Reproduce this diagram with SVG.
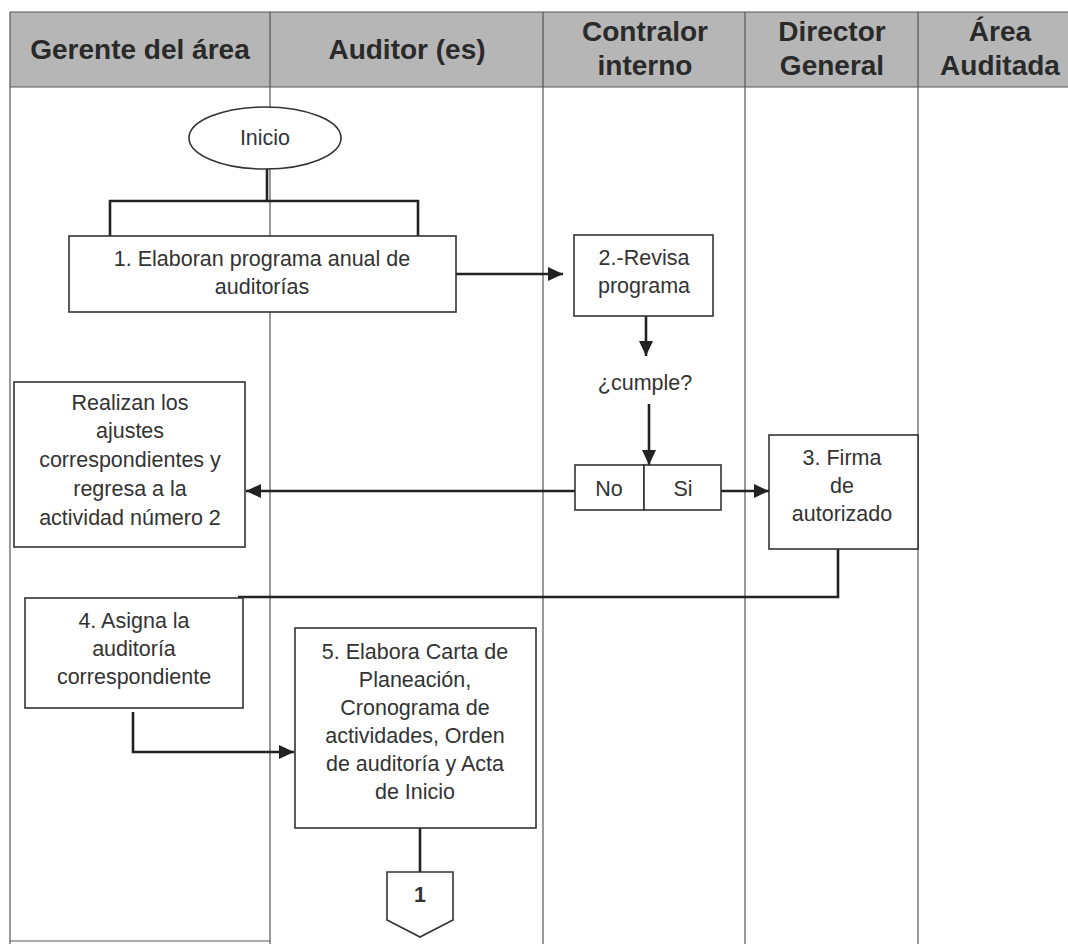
<svg xmlns="http://www.w3.org/2000/svg" width="1068" height="944" viewBox="0 0 1068 944">
<defs>
<style>
.lane{stroke:#555;stroke-width:1.2;fill:none}
.hdr{font-family:"Liberation Sans",Arial,sans-serif;font-weight:bold;font-size:28px;fill:#2a2a2a;text-anchor:middle}
.box{fill:#fff;stroke:#333;stroke-width:1.6}
.t{font-family:"Liberation Sans",Arial,sans-serif;font-size:21.5px;fill:#333;text-anchor:middle}
.c{stroke:#222;stroke-width:2.6;fill:none}
</style>
<marker id="ah" markerUnits="userSpaceOnUse" markerWidth="16" markerHeight="14" refX="15" refY="7" orient="auto">
<path d="M0,0 L15,7 L0,14 Z" fill="#222"/>
</marker>
</defs>
<rect width="1068" height="944" fill="#fff"/>
<g id="table">
<rect x="10" y="12" width="1070" height="75" fill="#b6b6b6"/>
<line class="lane" x1="10" y1="12" x2="1068" y2="12"/>
<line class="lane" x1="10" y1="87" x2="1068" y2="87"/>
<line class="lane" x1="10" y1="12" x2="10" y2="944"/>
<line class="lane" x1="270" y1="12" x2="270" y2="944"/>
<line class="lane" x1="543" y1="12" x2="543" y2="944"/>
<line class="lane" x1="745" y1="12" x2="745" y2="944"/>
<line class="lane" x1="918" y1="12" x2="918" y2="944"/>
<line class="lane" x1="10" y1="941" x2="270" y2="941"/>
<text class="hdr" x="140" y="59">Gerente del área</text>
<text class="hdr" x="407" y="59">Auditor (es)</text>
<text class="hdr" x="645" y="41">Contralor</text>
<text class="hdr" x="645" y="75">interno</text>
<text class="hdr" x="832" y="41">Director</text>
<text class="hdr" x="832" y="75">General</text>
<text class="hdr" x="1000" y="41">Área</text>
<text class="hdr" x="1000" y="75">Auditada</text>
</g>
<g id="connectors">
<polyline class="c" points="267,169 267,201"/>
<polyline class="c" points="110,236 110,201 418,201 418,236"/>
<line class="c" x1="456" y1="274" x2="563" y2="274" marker-end="url(#ah)"/>
<line class="c" x1="646" y1="316" x2="646" y2="356" marker-end="url(#ah)"/>
<line class="c" x1="649" y1="404" x2="649" y2="465" marker-end="url(#ah)"/>
<line class="c" x1="575" y1="491" x2="246" y2="491" marker-end="url(#ah)"/>
<line class="c" x1="721" y1="491" x2="769" y2="491" marker-end="url(#ah)"/>
<polyline class="c" points="838,549 838,597 238,597"/>
<polyline class="c" points="133,712 133,752 294,752" marker-end="url(#ah)"/>
<line class="c" x1="420" y1="828" x2="420" y2="872"/>
</g>
<g id="inicio">
<ellipse cx="265" cy="138" rx="76" ry="31" fill="#fff" stroke="#333" stroke-width="1.6"/>
<text class="t" x="265" y="145">Inicio</text>
</g>
<g id="n1">
<rect class="box" x="69" y="236" width="387" height="76"/>
<text class="t" x="262" y="266">1. Elaboran programa anual de</text>
<text class="t" x="262" y="294">auditorías</text>
</g>
<g id="n2">
<rect class="box" x="574" y="235" width="139" height="81"/>
<text class="t" x="644" y="265">2.-Revisa</text>
<text class="t" x="644" y="293">programa</text>
</g>
<g id="decision">
<text class="t" x="645" y="390">¿cumple?</text>
</g>
<g id="nosi">
<rect class="box" x="575" y="465" width="69" height="45"/>
<rect class="box" x="644" y="465" width="77" height="45"/>
<text class="t" x="609" y="496">No</text>
<text class="t" x="683" y="496">Si</text>
</g>
<g id="n3">
<rect class="box" x="769" y="435" width="149" height="114"/>
<text class="t" x="842" y="465">3. Firma</text>
<text class="t" x="842" y="493">de</text>
<text class="t" x="842" y="521">autorizado</text>
</g>
<g id="ajustes">
<rect class="box" x="14" y="382" width="231" height="165"/>
<text class="t" x="130" y="410">Realizan los</text>
<text class="t" x="130" y="438">ajustes</text>
<text class="t" x="130" y="467">correspondientes y</text>
<text class="t" x="130" y="496">regresa a la</text>
<text class="t" x="130" y="525">actividad número 2</text>
</g>
<g id="n4">
<rect class="box" x="25" y="598" width="218" height="110"/>
<text class="t" x="134" y="628">4. Asigna la</text>
<text class="t" x="134" y="656">auditoría</text>
<text class="t" x="134" y="684">correspondiente</text>
</g>
<g id="n5">
<rect class="box" x="295" y="628" width="241" height="200"/>
<text class="t" x="415" y="659">5. Elabora Carta de</text>
<text class="t" x="415" y="687">Planeación,</text>
<text class="t" x="415" y="715">Cronograma de</text>
<text class="t" x="415" y="743">actividades, Orden</text>
<text class="t" x="415" y="771">de auditoría y Acta</text>
<text class="t" x="415" y="799">de Inicio</text>
</g>
<g id="connector1">
<path class="box" d="M387,872 L453,872 L453,920 L420,937 L387,920 Z"/>
<text class="t" x="420" y="902" style="font-weight:bold">1</text>
</g>
</svg>
